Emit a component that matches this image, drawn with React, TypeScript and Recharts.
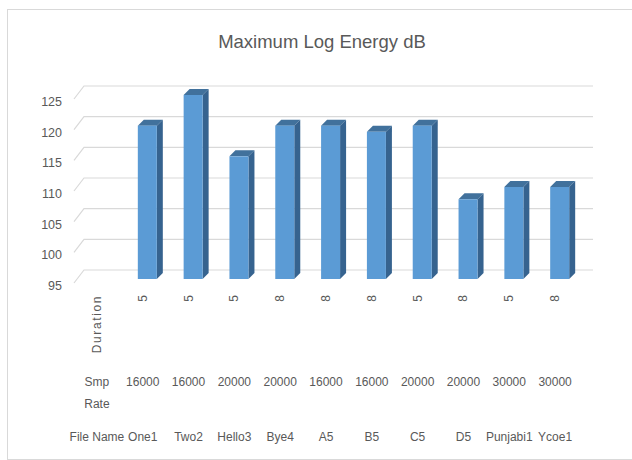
import React from "react";
import { BarChart, Bar, XAxis, YAxis, CartesianGrid } from "recharts";

const fileNames = ["One1", "Two2", "Hello3", "Bye4", "A5", "B5", "C5", "D5", "Punjabi1", "Ycoe1"];
const sampleRates = [16000, 16000, 20000, 20000, 16000, 16000, 20000, 20000, 30000, 30000];
const durations = [5, 5, 5, 8, 8, 8, 5, 8, 5, 8];
const maxLogEnergy = [120, 125, 115, 120, 120, 119, 120, 108, 110, 110];
const yTicks = [95, 100, 105, 110, 115, 120, 125];

// first category is the header column of the multi-level axis (no bar)
const headerFile = "File Name";
const headerRate = ["Smp", "Rate"];
const headerDuration = "Duration";

const data = [
  { file: headerFile, rate: "", duration: "", energy: null as number | null },
  ...fileNames.map((f, i) => ({
    file: f,
    rate: String(sampleRates[i]),
    duration: String(durations[i]),
    energy: maxLogEnergy[i],
  })),
];

const FONT = "'Liberation Sans', Arial, sans-serif";
const TEXT = "#595959";
const GRID = "#D9D9D9";

function Bar3D(props: any) {
  const { x, y, width, height } = props;
  if (height == null || height <= 0) return null;
  const sx = 5;
  const sy = -4;
  const d = 6;
  const fx = x + sx;
  const fy = y + sy;
  const fb = y + height + sy;
  const r = fx + width;
  return (
    <g>
      <polygon points={`${fx},${fy} ${fx + d},${fy - d} ${r + d},${fy - d} ${r},${fy}`} fill="#41719C" />
      <polygon points={`${r},${fy} ${r + d},${fy - d} ${r + d},${fb - d} ${r},${fb}`} fill="#36638F" />
      <rect x={fx} y={fy} width={width} height={height} fill="#5B9BD5" />
    </g>
  );
}

function gridLine(props: any) {
  const { x1, x2, y1, index } = props;
  return (
    <polyline
      key={`g-${index}`}
      points={`${x1},${y1} ${x1 + 10},${y1 - 13} ${x2 + 15},${y1 - 13}`}
      fill="none"
      stroke={GRID}
      strokeWidth={1.2}
    />
  );
}

function YTick(props: any) {
  const { y, payload } = props;
  return (
    <text x={62} y={y + 3} textAnchor="end" dominantBaseline="central" fontFamily={FONT} fontSize={12.5} fill={TEXT}>
      {payload.value}
    </text>
  );
}

function XTick(props: any) {
  const { x, y, index } = props;
  const row = data[index];
  if (!row) return null;
  const isHeader = index === 0;
  const dur = isHeader ? headerDuration : row.duration;
  return (
    <g fontFamily={FONT} fontSize={12} fill={TEXT}>
      <text
        transform={`translate(${x + 4},${y + 12}) rotate(-90)`}
        textAnchor="end"
        dominantBaseline="auto"
        letterSpacing={isHeader ? 1.6 : 0}
      >
        {dur}
      </text>
      {isHeader ? (
        <>
          <text x={x} y={y + 99} textAnchor="middle" dominantBaseline="central">{headerRate[0]}</text>
          <text x={x} y={y + 121} textAnchor="middle" dominantBaseline="central">{headerRate[1]}</text>
        </>
      ) : (
        <text x={x} y={y + 99} textAnchor="middle" dominantBaseline="central">{row.rate}</text>
      )}
      <text x={x} y={y + 154} textAnchor="middle" dominantBaseline="central">{row.file}</text>
    </g>
  );
}

export default function App() {
  return (
    <div style={{ position: "absolute", left: 0, top: 0, width: 632, height: 460, background: "#fff" }}>
      <div
        style={{
          position: "absolute",
          left: 7,
          top: 9,
          width: 625,
          height: 449,
          borderLeft: "1px solid #D9D9D9",
          borderTop: "1px solid #D9D9D9",
          borderBottom: "1px solid #D9D9D9",
        }}
      />
      <div
        style={{
          position: "absolute",
          left: 122,
          top: 31,
          width: 400,
          height: 22,
          lineHeight: "22px",
          textAlign: "center",
          fontFamily: FONT,
          fontSize: 18.5,
          color: TEXT,
        }}
      >
        Maximum Log Energy dB
      </div>
      <div style={{ position: "absolute", left: 0, top: 0 }}>
        <BarChart width={632} height={460} data={data} margin={{ top: 99, right: 54, left: 0, bottom: 0 }}>
          <CartesianGrid vertical={false} horizontal={gridLine} />
          <XAxis
            dataKey="file"
            axisLine={false}
            tickLine={false}
            tickSize={0}
            tickMargin={0}
            height={177}
            interval={0}
            tick={<XTick />}
          />
          <YAxis
            domain={[95, 125]}
            ticks={yTicks}
            axisLine={false}
            tickLine={false}
            width={74}
            tick={<YTick />}
          />
          <Bar dataKey="energy" barSize={19} shape={<Bar3D />} isAnimationActive={false} />
        </BarChart>
      </div>
    </div>
  );
}
